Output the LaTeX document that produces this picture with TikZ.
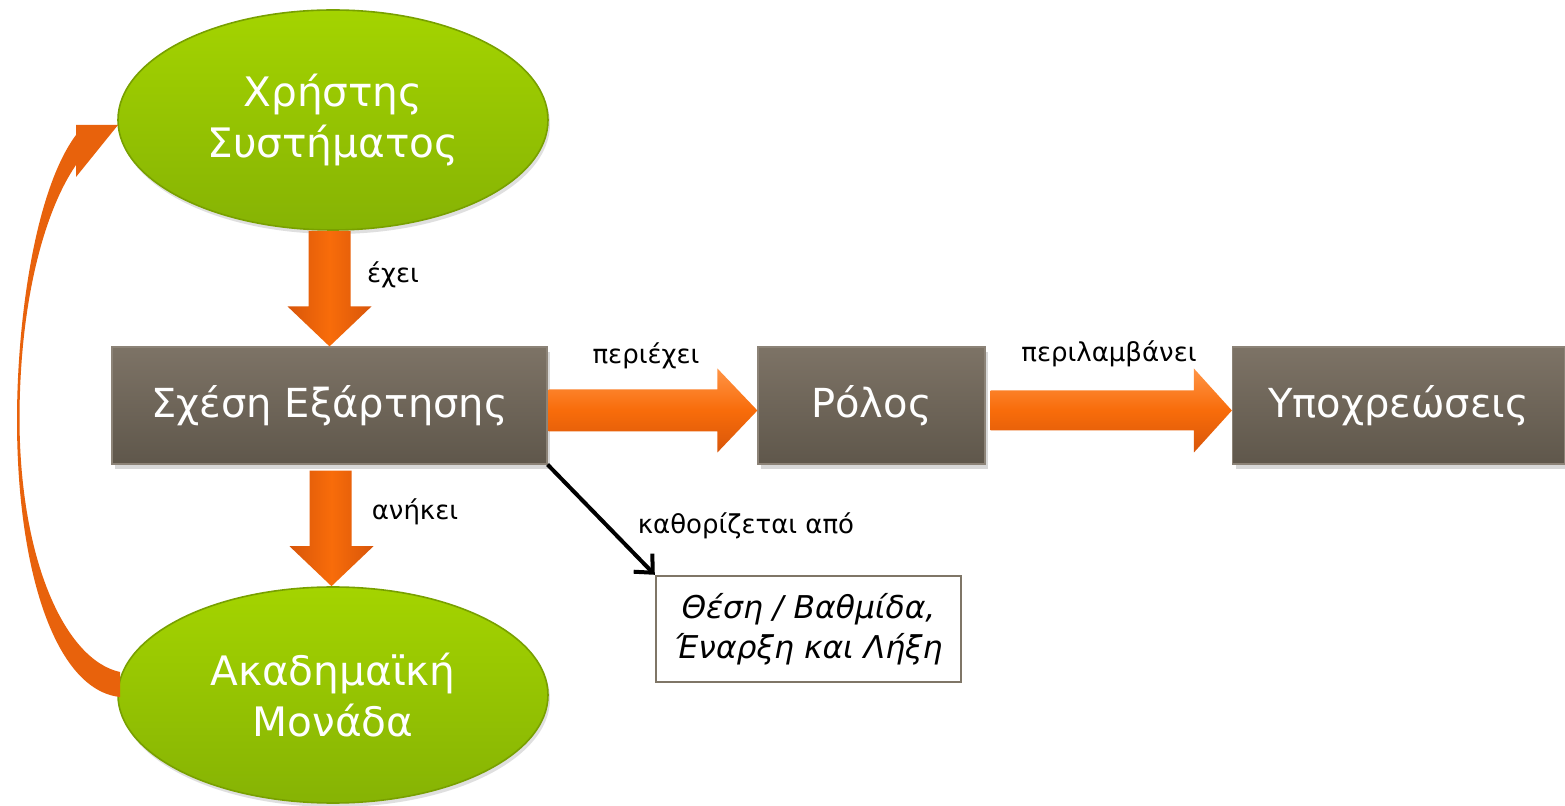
\documentclass[tikz,border=0pt]{standalone}
\usepackage{fontspec}
\setmainfont{DejaVu Sans}
\usetikzlibrary{shapes.geometric,shadows,calc,arrows.meta}
\definecolor{gTop}{HTML}{A4D400}
\definecolor{gBot}{HTML}{86B304}
\definecolor{gEdge}{HTML}{78A000}
\definecolor{bTop}{HTML}{7D7366}
\definecolor{bBot}{HTML}{5F574B}
\definecolor{bEdge}{HTML}{8C8377}
\definecolor{oLight}{HTML}{FF9446}
\definecolor{oMid}{HTML}{F86C0A}
\definecolor{oDark}{HTML}{D8560A}
\definecolor{oCurve}{HTML}{E8620C}
\definecolor{wEdge}{HTML}{7F7667}
\tikzset{
  greenell/.style={ellipse, inner sep=0pt, draw=gEdge, line width=0.8pt,
    top color=gTop, bottom color=gBot, text=white, align=center,
    font=\fontsize{20.3}{25.5}\selectfont,
    drop shadow={opacity=0.25, shadow xshift=1pt, shadow yshift=-2pt}},
  brownbox/.style={rectangle, inner sep=0pt, draw=bEdge, line width=0.6pt,
    top color=bTop, bottom color=bBot, text=white,
    font=\fontsize{20}{24}\selectfont,
    drop shadow={opacity=0.3, shadow xshift=1.5pt, shadow yshift=-2.5pt}},
  whitebox/.style={rectangle, inner sep=0pt, draw=wEdge, line width=1.2pt,
    fill=white, align=center, font=\fontsize{15.7}{20}\selectfont\itshape},
  lbl/.style={inner sep=0pt, font=\fontsize{13}{15}\selectfont, text=black},
  blockH/.style={top color=oLight, bottom color=oDark, middle color=oMid},
  blockV/.style={left color=oDark, right color=oDark, middle color=oMid},
  curvearrow/.style={fill=oCurve},
  thinarrow/.style={line width=2pt, -{Straight Barb[length=7pt,width=13pt]}}
}
\begin{document}
\begin{tikzpicture}[x=0.5pt,y=-0.5pt]
\useasboundingbox (0,0) rectangle (1565,806);
\fill[white] (0,0) rectangle (1565,806);

% nodes
\node[greenell, minimum width=215pt, minimum height=110pt] (ux) at (333,120) {Χρήστης\\Συστήματος};
\node[greenell, minimum width=215pt, minimum height=108pt] (am) at (333,695) {Ακαδημαϊκή\\Μονάδα};
\node[brownbox, minimum width=217.5pt, minimum height=58.5pt] (sx) at (329.5,405.5) {Σχέση Εξάρτησης};
\node[brownbox, minimum width=113.5pt, minimum height=58.5pt] (ro) at (871.5,405.5) {Ρόλος};
\node[brownbox, minimum width=166pt, minimum height=58.5pt] (yp) at (1398.5,405.5) {Υποχρεώσεις};
\node[whitebox, minimum width=152.5pt, minimum height=53pt] (th) at (808.5,629) {Θέση / Βαθμίδα,\\Έναρξη και Λήξη};

% down arrow: ux -> sx
\path[blockV] let \p1=(ux.south), \p2=(sx.north) in
  ({\x2-10.5pt},\y1) -- ({\x2+10.5pt},\y1) -- ({\x2+10.5pt},{\y2+20pt}) --
  ({\x2+21pt},{\y2+20pt}) -- (\x2,\y2) -- ({\x2-21pt},{\y2+20pt}) --
  ({\x2-10.5pt},{\y2+20pt}) -- cycle;
% down arrow: sx -> am
\path[blockV] let \p1=(sx.south), \p2=(am.north) in
  ({\x1-10pt},{\y1-3pt}) -- ({\x1+11pt},{\y1-3pt}) -- ({\x1+11pt},{\y2+20pt}) --
  ({\x1+22pt},{\y2+20pt}) -- ({\x1+1pt},\y2) -- ({\x1-20pt},{\y2+20pt}) --
  ({\x1-10pt},{\y2+20pt}) -- cycle;
% right arrow: sx -> ro
\path[blockH] let \p1=(sx.east), \p2=(ro.west) in
  ({\x1+0.5pt},{\y1-2.5pt+10.5pt}) -- ({\x2-20pt},{\y1-2.5pt+10.5pt}) --
  ({\x2-20pt},{\y1-2.5pt+21pt}) -- (\x2,{\y1-2.5pt}) --
  ({\x2-20pt},{\y1-2.5pt-21pt}) -- ({\x2-20pt},{\y1-2.5pt-10.5pt}) --
  ({\x1+0.5pt},{\y1-2.5pt-10.5pt}) -- cycle;
% right arrow: ro -> yp
\path[blockH] let \p1=(ro.east), \p2=(yp.west) in
  ({\x1+2.5pt},{\y1-2.5pt+10pt}) -- ({\x2-19pt},{\y1-2.5pt+10pt}) --
  ({\x2-19pt},{\y1-2.5pt+21pt}) -- (\x2,{\y1-2.5pt}) --
  ({\x2-19pt},{\y1-2.5pt-21pt}) -- ({\x2-19pt},{\y1-2.5pt-10pt}) --
  ({\x1+2.5pt},{\y1-2.5pt-10pt}) -- cycle;

% thin black arrow: sx -> th
\draw[thinarrow] (sx.south east) -- (th.north west);

% curved arrow: am -> ux
\path[curvearrow] (118,125) -- (76,125) -- (76,135)
  .. controls (35,190) and (17,320) .. (17,420)
  .. controls (17,570) and (55,690) .. (120,697) -- (120,672)
  .. controls (65,660) and (20,560) .. (19.5,420)
  .. controls (19.5,300) and (45,210) .. (76,165) -- (76,177) -- cycle;

% labels
\node[lbl] (l1) at (393,275) {έχει};
\node[lbl] (l2) at (415,512) {ανήκει};
\node[lbl] (l3) at (646,356) {περιέχει};
\node[lbl] (l4) at (1109,354) {περιλαμβάνει};
\node[lbl] (l5) at (746,526) {καθορίζεται από};
\end{tikzpicture}
\end{document}
